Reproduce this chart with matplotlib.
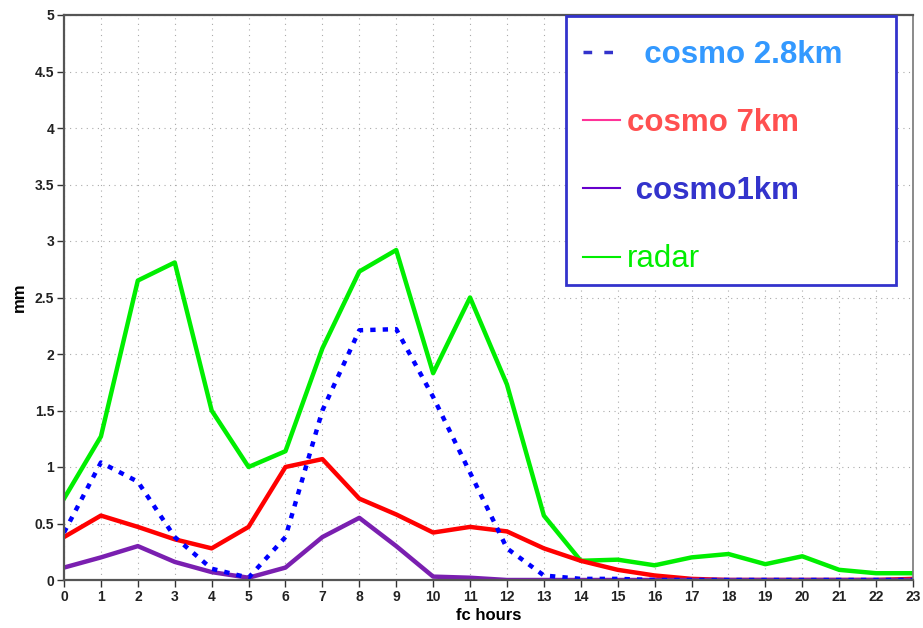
import numpy as np
import matplotlib
matplotlib.use("Agg")
import matplotlib.pyplot as plt
from matplotlib.lines import Line2D
from matplotlib.patches import Rectangle

# Dados (mm por hora de previsão)
horas = np.arange(0, 24)
radar = [0.72, 1.27, 2.65, 2.81, 1.50, 1.00, 1.14, 2.05, 2.73, 2.92, 1.83, 2.50,
         1.73, 0.57, 0.17, 0.18, 0.13, 0.20, 0.23, 0.14, 0.21, 0.09, 0.06, 0.06]
cosmo28 = [0.42, 1.04, 0.87, 0.38, 0.10, 0.02, 0.38, 1.50, 2.21, 2.22, 1.62, 0.95,
           0.28, 0.04, 0.01, 0.01, 0.0, 0.0, 0.0, 0.0, 0.0, 0.0, 0.0, 0.0]
cosmo7 = [0.38, 0.57, 0.47, 0.36, 0.28, 0.47, 1.00, 1.07, 0.72, 0.58, 0.42, 0.47,
          0.43, 0.28, 0.17, 0.09, 0.04, 0.01, 0.0, 0.0, 0.0, 0.0, 0.0, 0.01]
cosmo1 = [0.11, 0.20, 0.30, 0.16, 0.07, 0.02, 0.11, 0.38, 0.55, 0.30, 0.03, 0.02,
          0.0, 0.0, 0.0, 0.0, 0.0, 0.0, 0.0, 0.0, 0.0, 0.0, 0.0, 0.0]
yticks = [0, 0.5, 1, 1.5, 2, 2.5, 3, 3.5, 4, 4.5, 5]

plt.rcParams['font.family'] = ['Liberation Sans', 'DejaVu Sans']

fig = plt.figure(figsize=(9.23, 6.28), dpi=100)
ax = fig.add_axes([64/923, 48/628, 849/923, 565/628])

ax.plot(horas, radar, color='#00ee00', lw=3.2)
ax.plot(horas, cosmo7, color='#ff0000', lw=3.2)
ax.plot(horas, cosmo1, color='#7a1fb0', lw=3.2)
ax.plot(horas, cosmo28, color='#0000ff', lw=3.2, linestyle=(0, (1.2, 1.6)))

ax.set_xlim(0, 23)
ax.set_ylim(0, 5)
ax.set_xticks(horas)
ax.set_yticks(yticks)
ax.set_yticklabels([f"{v:g}" for v in yticks])
tick_font = ['Liberation Sans Narrow', 'Liberation Sans']
for lab in ax.get_xticklabels() + ax.get_yticklabels():
    lab.set_family(tick_font)
    lab.set_fontweight('bold')
    lab.set_fontsize(10)
    lab.set_color('#222222')
ax.tick_params(axis='both', direction='out', length=5, width=1, color='#333333', pad=2)
ax.grid(True, color='#aaaaaa', linestyle=(0, (1, 4)), lw=0.8)

for s in ['left', 'top', 'bottom']:
    ax.spines[s].set_color('#555555')
    ax.spines[s].set_linewidth(1.6)
ax.spines['right'].set_color('#777777')
ax.spines['right'].set_linewidth(1.2)

ax.set_xlabel('fc hours', fontsize=12, fontweight='bold', labelpad=3)
ax.set_ylabel('mm', fontsize=12, fontweight='bold', labelpad=6)

# Caixa da legenda
caixa = Rectangle((0.591, 0.522), 0.389, 0.476, transform=ax.transAxes,
                  facecolor='white', edgecolor='#3333cc', lw=2, zorder=4.5)
ax.add_patch(caixa)

# Legenda
handles = [
    Line2D([], [], color='#3333cc', lw=2.5, linestyle=(0, (2.5, 3.5))),
    Line2D([], [], color='#ff3399', lw=1.5),
    Line2D([], [], color='#6600cc', lw=1.5),
    Line2D([], [], color='#00ee00', lw=1.5),
]
rotulos = ['  cosmo 2.8km', 'cosmo 7km', ' cosmo1km', 'radar']
cores = ['#3399ff', '#ff5050', '#3333cc', '#00ee00']
leg = ax.legend(handles, rotulos, loc='upper left', bbox_to_anchor=(0.591, 0.986),
                fontsize=22.5, handlelength=1.2, handletextpad=0.2, labelspacing=1.22,
                borderpad=0.55, borderaxespad=0, frameon=False)
leg.set_zorder(6)
for txt, c, w in zip(leg.get_texts(), cores, ['bold', 'bold', 'bold', 'normal']):
    txt.set_color(c)
    txt.set_fontweight(w)

fig.savefig('out.png', dpi=100)
